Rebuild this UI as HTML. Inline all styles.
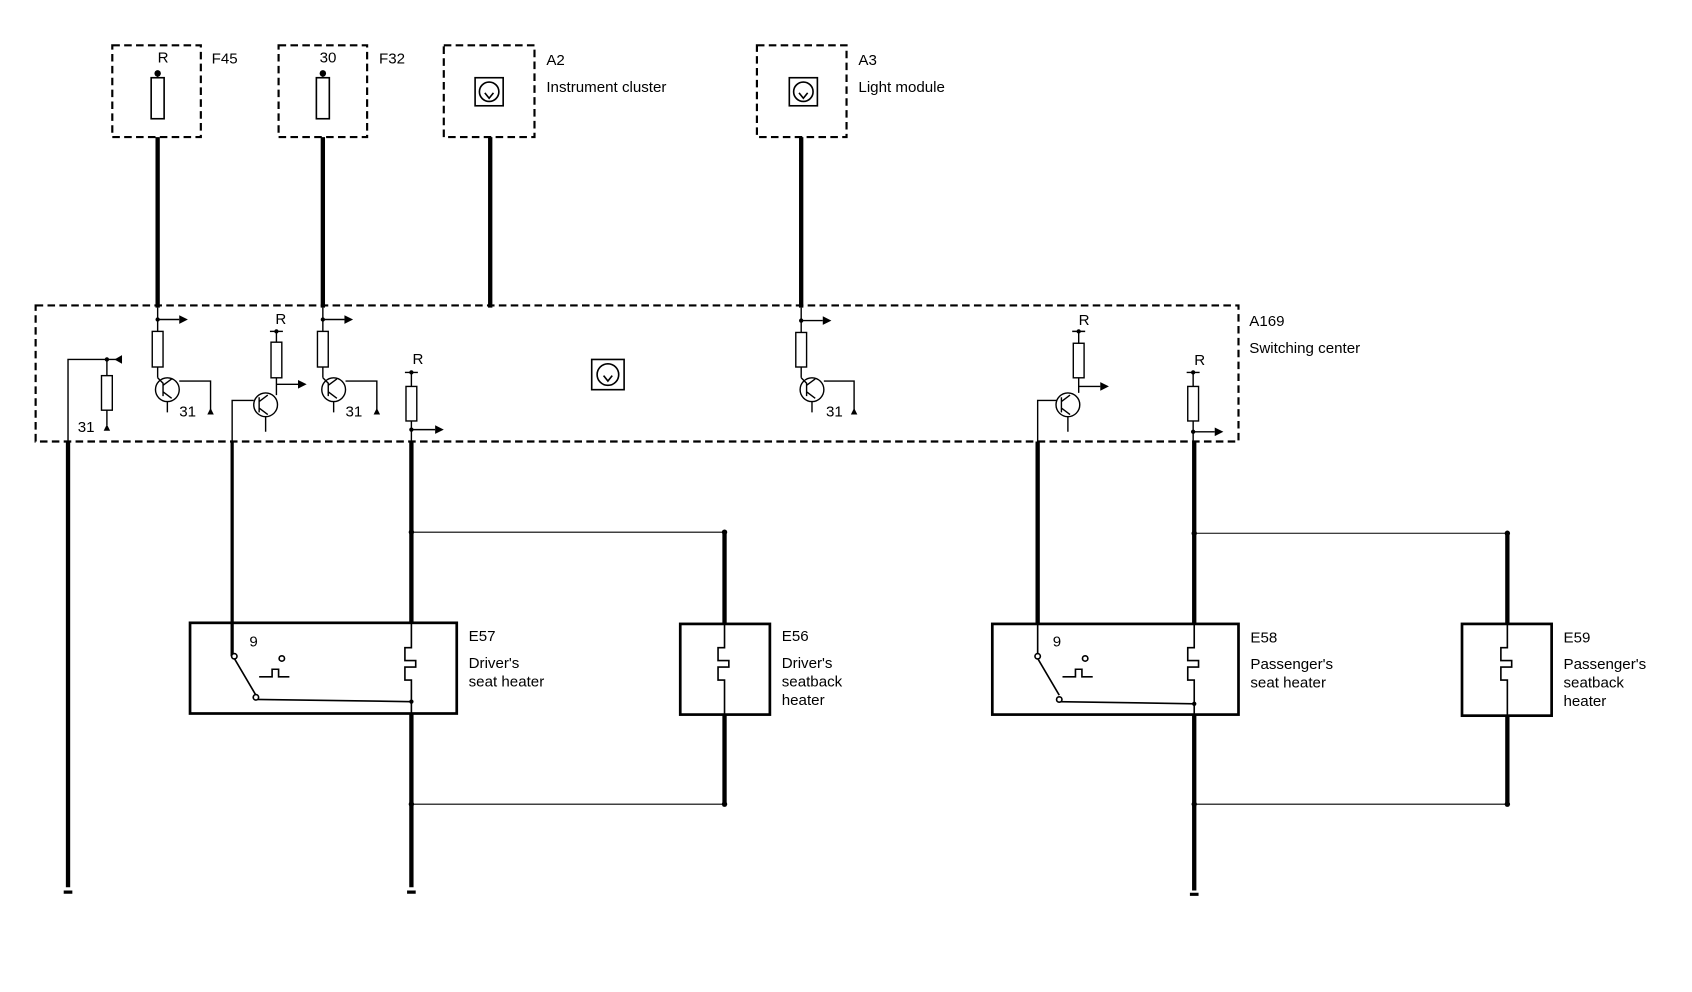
<!DOCTYPE html>
<html><head><meta charset="utf-8"><style>
html,body{margin:0;padding:0;background:#fff;}
svg{display:block;}
text{font-family:"Liberation Sans",sans-serif;font-size:14px;fill:#000;}
</style></head><body>
<svg width="1692" height="992" viewBox="0 0 1567 919" preserveAspectRatio="none" xmlns="http://www.w3.org/2000/svg">
<g fill="none" stroke="#000">
<g stroke-width="2" stroke-dasharray="7,4">
<rect x="104" y="42" width="82" height="85"/>
<rect x="258" y="42" width="82" height="85"/>
<rect x="411" y="42" width="84" height="85"/>
<rect x="701" y="42" width="83" height="85"/>
<rect x="33" y="283" width="1114" height="126"/>
</g>
<rect x="140" y="72" width="12" height="38" stroke-width="1.5"/>
<rect x="293" y="72" width="12" height="38" stroke-width="1.5"/>
<line x1="146" y1="66" x2="146" y2="72"/><line x1="299" y1="66" x2="299" y2="72"/>
<g stroke-width="1.5">
<rect x="440" y="72" width="26" height="26"/><circle cx="453" cy="85" r="9"/>
<rect x="731" y="72" width="26" height="26"/><circle cx="744" cy="85" r="9"/>
<rect x="548" y="333" width="30" height="28"/><circle cx="563" cy="347" r="10"/>
<path d="M449 86l4 5 4-5M740 86l4 5 4-5M559 348l4 5 4-5"/>
</g>
<g stroke-width="4">
<line x1="146" y1="127" x2="146" y2="285"/>
<line x1="299" y1="127" x2="299" y2="285"/>
<line x1="454" y1="127" x2="454" y2="285"/>
<line x1="742" y1="127" x2="742" y2="285"/>
<line x1="63" y1="409" x2="63" y2="822"/>
<line x1="381" y1="409" x2="381" y2="578"/>
<line x1="381" y1="661" x2="381" y2="822"/>
<line x1="671" y1="493" x2="671" y2="578"/>
<line x1="671" y1="662" x2="671" y2="745"/>
<line x1="961" y1="409" x2="961" y2="578"/>
<line x1="1106" y1="409" x2="1106" y2="578"/>
<line x1="1106" y1="662" x2="1106" y2="825"/>
<line x1="1396" y1="494" x2="1396" y2="578"/>
<line x1="1396" y1="663" x2="1396" y2="745"/>
</g>
<line x1="215" y1="409" x2="215" y2="608" stroke-width="3"/>
<g stroke-width="1">
<line x1="381" y1="493" x2="671" y2="493"/>
<line x1="381" y1="745" x2="671" y2="745"/>
<line x1="1106" y1="494" x2="1396" y2="494"/>
<line x1="1106" y1="745" x2="1396" y2="745"/>
</g>
<g stroke-width="2.5">
<rect x="176" y="577" width="247" height="84"/>
<rect x="630" y="578" width="83" height="84"/>
<rect x="919" y="578" width="228" height="84"/>
<rect x="1354" y="578" width="83" height="85"/>
</g>
<g stroke-width="1.5">
<path d="M381 578v22h-6v12h10v6h-10v12h6v31"/>
<path d="M671 578v22h-6v12h10v6h-10v12h6v32"/>
<path d="M1106 578v22h-6v12h10v6h-10v12h6v32"/>
<path d="M1396 578v22h-6v12h10v6h-10v12h6v33"/>
<path d="M217 610l20 34M237 648l144 2M240 627h12v-7h6v7h10"/>
<circle cx="217" cy="608" r="2.5" fill="#fff"/><circle cx="237" cy="646" r="2.5" fill="#fff"/><circle cx="261" cy="610" r="2.5" fill="#fff"/>
<path d="M961 578v30M961 610l20 34M981 650l125 2M984 627h12v-7h6v7h10"/>
<circle cx="961" cy="608" r="2.5" fill="#fff"/><circle cx="981" cy="648" r="2.5" fill="#fff"/><circle cx="1005" cy="610" r="2.5" fill="#fff"/>
</g>
<g stroke-width="1.3">
<path d="M63 409V333h50"/><path d="M99 333v15M99 380v14"/><rect x="94" y="348" width="10" height="32"/>
<path d="M146 296h20M146 285v22M146 340v10"/><rect x="141" y="307" width="10" height="33"/>
<circle cx="155" cy="361" r="11"/><path d="M155 372v10M166 353h29v27M146 350l5 5v12M151 357l8-6M151 363l8 6"/>
<path d="M256 307v10M256 350v16M256 356h20"/><rect x="251" y="317" width="10" height="33"/><path d="M250 307h12"/>
<circle cx="246" cy="375" r="11"/><path d="M215 409v-38h20M246 386v14M240 368v14M240 372l8-6M240 378l8 6"/>
<path d="M299 296h20M299 285v22M299 340v10"/><rect x="294" y="307" width="10" height="33"/>
<circle cx="309" cy="361" r="11"/><path d="M309 372v10M320 353h29v27M299 350l5 5v12M304 357l8-6M304 363l8 6"/>
<path d="M375 345h12M381 345v13M381 390v19M381 398h22"/><rect x="376" y="358" width="10" height="32"/>
<path d="M742 297h20M742 285v23M742 340v10"/><rect x="737" y="308" width="10" height="32"/>
<circle cx="752" cy="361" r="11"/><path d="M752 372v10M763 353h28v27M742 350l5 5v12M747 357l8-6M747 363l8 6"/>
<path d="M999 307v11M999 350v14M999 358h20M993 307h12"/><rect x="994" y="318" width="10" height="32"/>
<circle cx="989" cy="375" r="11"/><path d="M961 409v-38h18M989 386v14M983 368v14M983 372l8-6M983 378l8 6"/>
<path d="M1099 345h12M1105 345v13M1105 390v19M1105 400h20"/><rect x="1100" y="358" width="10" height="32"/>
</g>
</g>
<g fill="#000">
<path d="M166 292l8 4-8 4zM319 292l8 4-8 4zM762 293l8 4-8 4zM403 394l8 4-8 4zM276 352l8 4-8 4zM1019 354l8 4-8 4zM1125 396l8 4-8 4zM113 329l-7 4 7 4z"/>
<circle cx="146" cy="68" r="3"/><circle cx="299" cy="68" r="3"/>
<circle cx="146" cy="296" r="2"/><circle cx="299" cy="296" r="2"/><circle cx="742" cy="297" r="2"/>
<circle cx="256" cy="307" r="2"/><circle cx="381" cy="345" r="2"/><circle cx="999" cy="307" r="2"/><circle cx="1105" cy="345" r="2"/>
<circle cx="99" cy="333" r="2"/><circle cx="381" cy="398" r="2"/><circle cx="1105" cy="400" r="2"/>
<circle cx="381" cy="493" r="2.5"/><circle cx="671" cy="493" r="2.5"/><circle cx="381" cy="745" r="2.5"/><circle cx="671" cy="745" r="2.5"/>
<circle cx="1106" cy="494" r="2.5"/><circle cx="1396" cy="494" r="2.5"/><circle cx="1106" cy="745" r="2.5"/><circle cx="1396" cy="745" r="2.5"/>
<circle cx="381" cy="650" r="2"/><circle cx="1106" cy="652" r="2"/>
<path d="M96 399l3-6 3 6zM192 384l3-6 3 6zM346 384l3-6 3 6zM788 384l3-6 3 6z"/>
<path d="M59 828h8v-3h-8zM377 828h8v-3h-8zM1102 830h8v-3h-8z"/>
</g>
<text x="146" y="58">R</text>
<text x="196" y="59">F45</text>
<text x="296" y="58">30</text>
<text x="351" y="59">F32</text>
<text x="506" y="60">A2</text>
<text x="506" y="85">Instrument cluster</text>
<text x="795" y="60">A3</text>
<text x="795" y="85">Light  module</text>
<text x="1157" y="302">A169</text>
<text x="1157" y="327">Switching center</text>
<text x="255" y="300">R</text>
<text x="382" y="337">R</text>
<text x="999" y="301">R</text>
<text x="1106" y="338">R</text>
<text x="72" y="400">31</text>
<text x="166" y="386">31</text>
<text x="320" y="386">31</text>
<text x="765" y="386">31</text>
<text x="231" y="599">9</text>
<text x="975" y="599">9</text>
<text x="434" y="594">E57</text>
<text x="434" y="619">Driver's</text>
<text x="434" y="636">seat heater</text>
<text x="724" y="594">E56</text>
<text x="724" y="619">Driver's</text>
<text x="724" y="636">seatback</text>
<text x="724" y="653">heater</text>
<text x="1158" y="595">E58</text>
<text x="1158" y="620">Passenger's</text>
<text x="1158" y="637">seat  heater</text>
<text x="1448" y="595">E59</text>
<text x="1448" y="620">Passenger's</text>
<text x="1448" y="637">seatback</text>
<text x="1448" y="654">heater</text>
</svg>
</body></html>
